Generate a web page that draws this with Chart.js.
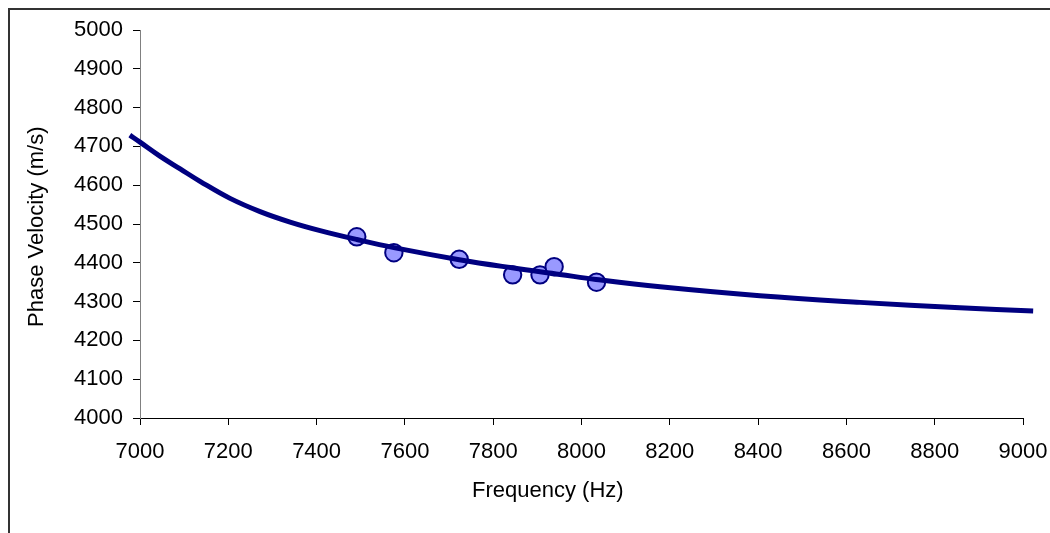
<!DOCTYPE html>
<html>
<head>
<meta charset="utf-8">
<script src="https://cdn.jsdelivr.net/npm/chart.js@4.4.1/dist/chart.umd.min.js"></script>
<style>
    html, body { margin: 0; padding: 0; background: #fff; overflow: hidden; }
    #caixa { width: 1050px; height: 533px; }
</style>
</head>
<body>
<div id="caixa"><canvas id="grafico" width="1050" height="533"></canvas></div>
<script>
// curva ajustada
const curvaFreq = [6977, 7000, 7045, 7091, 7136, 7204, 7272, 7340, 7408, 7491, 7575, 7723, 7843, 7951, 8033, 8178, 8404, 8631, 8857, 9023];
const curvaVel = [4729, 4711, 4675, 4642, 4610, 4566, 4532, 4505, 4483, 4460, 4439, 4408, 4387, 4370, 4357, 4338, 4315, 4298, 4284, 4276];

// pontos medidos
const medFreq = [7491, 7575, 7723, 7844, 7906, 7938, 8034];
const medVel = [4467, 4426, 4409, 4369, 4369, 4390, 4350];

const ticksX = [7000, 7200, 7400, 7600, 7800, 8000, 8200, 8400, 8600, 8800, 9000];
const ticksY = [4000, 4100, 4200, 4300, 4400, 4500, 4600, 4700, 4800, 4900, 5000];

const tituloX = "Frequency (Hz)";
const tituloY = "Phase Velocity (m/s)";

const fonte = '"Liberation Sans", Arial, sans-serif';

const moldura = {
    id: 'moldura',
    beforeDraw(chart) {
        const ctx = chart.ctx;
        ctx.save();
        ctx.fillStyle = '#fff';
        ctx.fillRect(0, 0, chart.width, chart.height);
        ctx.strokeStyle = '#333';
        ctx.lineWidth = 2;
        ctx.strokeRect(9, 9, chart.width + 20, chart.height + 20);
        ctx.restore();
    },
    afterDraw(chart) {
        const ctx = chart.ctx;
        ctx.save();
        ctx.fillStyle = '#000';
        ctx.font = '22px ' + fonte;
        ctx.textAlign = 'left';
        ctx.textBaseline = 'alphabetic';
        ctx.fillText(tituloX, 472, 497);
        ctx.translate(43, 327);
        ctx.rotate(-Math.PI / 2);
        ctx.fillText(tituloY, 0, 0);
        ctx.restore();
    }
};

document.addEventListener("DOMContentLoaded", function () {
    const grafico = document.getElementById('grafico').getContext('2d');

    new Chart(grafico, {
        type: 'scatter',
        data: {
            datasets: [
                {
                    label: 'Ajuste',
                    data: curvaFreq.map((f, i) => ({ x: f, y: curvaVel[i] })),
                    showLine: true,
                    borderColor: '#000080',
                    borderWidth: 5,
                    pointRadius: 0,
                    tension: 0.4,
                    clip: false
                },
                {
                    label: 'Medido',
                    data: medFreq.map((f, i) => ({ x: f, y: medVel[i] })),
                    showLine: false,
                    pointRadius: 8.7,
                    pointBackgroundColor: '#9999ff',
                    pointBorderColor: '#000080',
                    pointBorderWidth: 2,
                    clip: false
                }
            ]
        },
        options: {
            responsive: false,
            animation: false,
            layout: { padding: { left: 0, top: 30, right: 27, bottom: 0 } },
            plugins: {
                legend: { display: false },
                tooltip: { enabled: false }
            },
            scales: {
                x: {
                    type: 'linear',
                    min: 7000,
                    max: 9000,
                    afterBuildTicks: s => { s.ticks = ticksX.map(v => ({ value: v })); },
                    afterFit: s => {
                        s.height = 115;
                        s.paddingLeft = 0;
                        s.paddingRight = 0;
                    },
                    ticks: {
                        color: '#000',
                        font: { family: fonte, size: 22 },
                        padding: 14,
                        maxRotation: 0,
                        autoSkip: false,
                        callback: v => String(v)
                    },
                    grid: { drawOnChartArea: false, drawTicks: true, tickLength: 7, color: '#000' },
                    border: { display: true, color: '#000', width: 1 }
                },
                y: {
                    type: 'linear',
                    min: 4000,
                    max: 5000,
                    afterBuildTicks: s => { s.ticks = ticksY.map(v => ({ value: v })); },
                    afterFit: s => {
                        s.width = 140;
                        s.paddingTop = 0;
                        s.paddingBottom = 0;
                    },
                    ticks: {
                        color: '#000',
                        font: { family: fonte, size: 22 },
                        padding: 10,
                        autoSkip: false,
                        callback: v => String(v)
                    },
                    grid: { drawOnChartArea: false, drawTicks: true, tickLength: 7, color: '#000' },
                    border: { display: true, color: '#808080', width: 1 }
                }
            }
        },
        plugins: [moldura]
    });
});
</script>
</body>
</html>
